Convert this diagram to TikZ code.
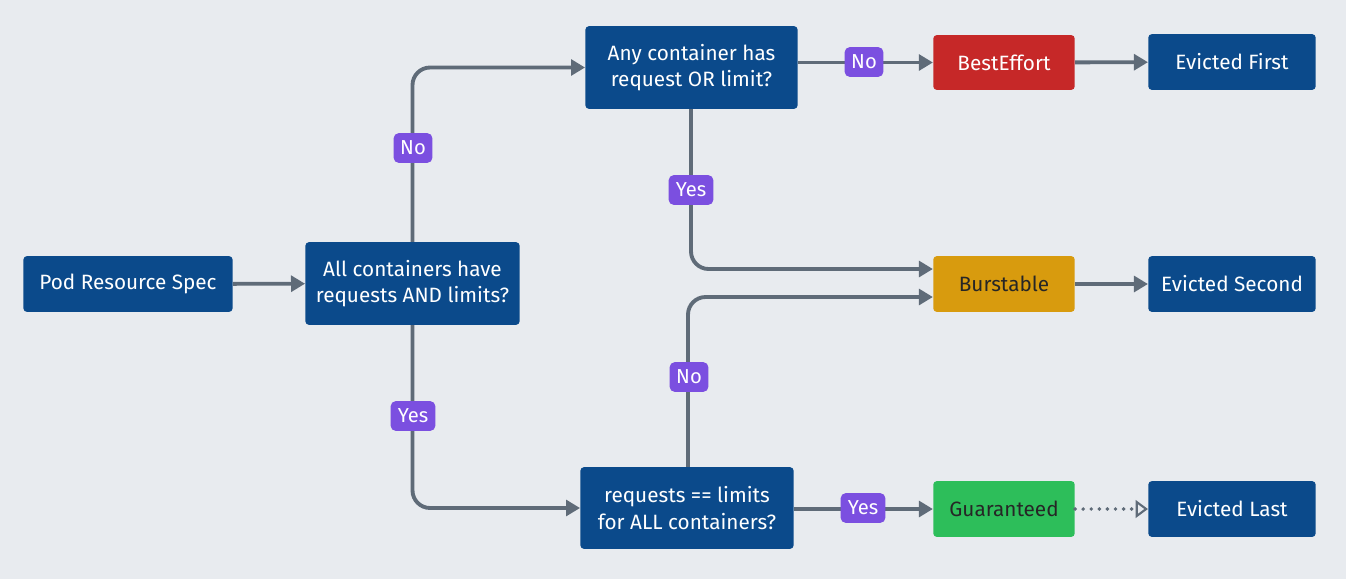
\documentclass[tikz,border=0pt]{standalone}
\usepackage{fontspec}
\setmainfont{Fira Sans}
\usetikzlibrary{arrows.meta,positioning}
\definecolor{bg}{HTML}{E8EBEF}
\definecolor{nblue}{HTML}{0B4A8B}
\definecolor{nred}{HTML}{C62828}
\definecolor{ngold}{HTML}{D89B0E}
\definecolor{ngreen}{HTML}{2DBE5A}
\definecolor{lpurple}{HTML}{7B4FE0}
\definecolor{agray}{HTML}{5F6B78}
\tikzset{
  box/.style={rectangle, rounded corners=2pt, fill=nblue, text=white, align=center, inner sep=0pt, font=\fontsize{11.8}{15}\selectfont},
  lbl/.style={rectangle, rounded corners=3pt, fill=lpurple, text=white, inner sep=0pt, minimum height=17pt, font=\fontsize{11.5}{13}\selectfont},
  conn/.style={draw=agray, line width=2.2pt, -{Triangle[length=8pt,width=9pt]}, rounded corners=10pt},
}
\begin{document}
\begin{tikzpicture}[x=0.02cm, y=-0.02cm]
\fill[bg] (0,0) rectangle (1346,579);
\useasboundingbox (0,0) rectangle (1346,579);
% nodes
\node[box, minimum width=210*0.567pt, minimum height=56*0.567pt] (pod) at (128,284) {Pod Resource Spec};
\node[box, minimum width=215*0.567pt, minimum height=83*0.567pt] (all) at (412.5,283.5) {All containers have\\requests AND limits?};
\node[box, minimum width=213*0.567pt, minimum height=83*0.567pt] (any) at (691.5,67.5) {Any container has\\request OR limit?};
\node[box, minimum width=214*0.567pt, minimum height=82*0.567pt] (req) at (687,508) {requests == limits\\for ALL containers?};
\node[box, fill=nred, minimum width=142*0.567pt, minimum height=55*0.567pt] (be) at (1004,62.5) {BestEffort};
\node[box, fill=ngold, text=black!85, minimum width=142*0.567pt, minimum height=56*0.567pt] (bu) at (1004,284) {Burstable};
\node[box, fill=ngreen, text=black!85, minimum width=142*0.567pt, minimum height=56*0.567pt] (gu) at (1004,509) {Guaranteed};
\node[box, minimum width=168*0.567pt, minimum height=56*0.567pt] (ef) at (1232,62) {Evicted First};
\node[box, minimum width=168*0.567pt, minimum height=56*0.567pt] (es) at (1232,284) {Evicted Second};
\node[box, minimum width=168*0.567pt, minimum height=56*0.567pt] (el) at (1232,509) {Evicted Last};
% helper coordinates
\coordinate (c1) at (412.5,67.5);
\coordinate (c2) at (412.5,508);
\coordinate (c3) at (691,269);
\coordinate (c4) at (688,297);
% connectors
\draw[conn] (pod) -- (all);
\draw[conn] (all.north) -- (c1) -- (any.west);
\draw[conn] (all.south) -- (c2) -- (req.west);
\draw[conn] (any.east |- be) -- (be.west);
\draw[conn] (be) -- (ef);
\draw[conn] (any.south -| c3) -- (c3) -- (bu.west |- c3);
\draw[conn] (req.north -| c4) -- (c4) -- (bu.west |- c4);
\draw[conn] (bu) -- (es);
\draw[conn] (req.east |- gu) -- (gu.west);
\draw[draw=agray, line width=2.2pt, line cap=round, dash pattern=on 0pt off 4.6pt, -{Triangle[open,length=7pt,width=10pt,line width=1.2pt]}] (gu.east) -- (el.west);
% labels
\node[lbl, minimum width=39*0.567pt] (n1) at (413,148) {No};
\node[lbl, minimum width=45*0.567pt] (y1) at (413,416) {Yes};
\node[lbl, minimum width=39*0.567pt] (n2) at (864,62) {No};
\node[lbl, minimum width=45*0.567pt] (y2) at (691,190) {Yes};
\node[lbl, minimum width=39*0.567pt] (n3) at (689,377) {No};
\node[lbl, minimum width=45*0.567pt] (y3) at (863,508) {Yes};
\end{tikzpicture}
\end{document}
